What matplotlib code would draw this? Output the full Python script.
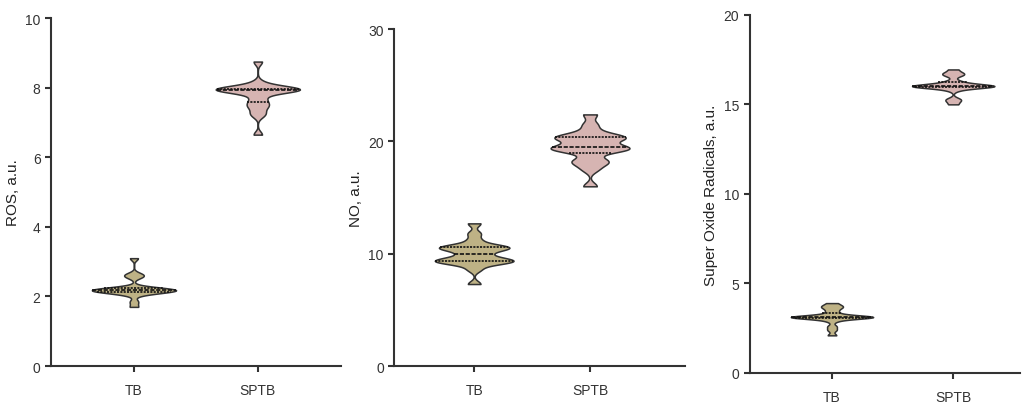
import matplotlib
matplotlib.use("Agg")
import matplotlib.pyplot as plt
import numpy as np
import pandas as pd
import seaborn as sns

plt.rcParams['font.family'] = ['Liberation Sans', 'DejaVu Sans']

groups = ["TB", "SPTB"]
colors = ["#c8b77b", "#dcaeac"]

# per-patient values
ros_tb = [1.7, 1.85, 2.05, 2.1, 2.12, 2.14, 2.15, 2.16, 2.17, 2.18,
          2.19, 2.2, 2.21, 2.22, 2.24, 2.27, 2.55, 2.6, 2.65, 3.1]
ros_sptb = [6.65, 7.2, 7.3, 7.45, 7.5, 7.6, 7.7, 7.85, 7.9, 7.92,
            7.93, 7.94, 7.95, 7.96, 7.97, 7.98, 8.0, 8.02, 8.15, 8.75]

no_tb = [7.3, 8.6, 9.1, 9.2, 9.3, 9.35, 9.4, 9.45, 9.6, 9.8,
         10.1, 10.3, 10.45, 10.55, 10.6, 10.65, 10.7, 11.2, 11.8, 12.7]
no_sptb = [16.0, 17.5, 18.0, 18.2, 18.4, 19.1, 19.2, 19.3, 19.4, 19.5,
           19.5, 19.8, 20.2, 20.3, 20.35, 20.4, 20.5, 20.9, 21.5, 22.4]

sor_tb = [2.1, 2.4, 2.6, 2.9, 3.05, 3.08, 3.1, 3.11, 3.12, 3.13,
          3.13, 3.14, 3.15, 3.16, 3.3, 3.45, 3.6, 3.7, 3.75, 3.9]
sor_sptb = [15.0, 15.2, 15.3, 15.8, 15.95, 15.98, 16.0, 16.0, 16.01, 16.02,
            16.03, 16.04, 16.05, 16.1, 16.2, 16.3, 16.6, 16.7, 16.75, 16.95]

panels = [
    (ros_tb, ros_sptb, "ROS, a.u.", 10, 2, [0.0498, 0.096, 0.283, 0.857], (-0.67, 1.67)),
    (no_tb, no_sptb, "NO, a.u.", 30, 10, [0.385, 0.096, 0.284, 0.830], (-0.69, 1.82)),
    (sor_tb, sor_sptb, "Super Oxide Radicals, a.u.", 20, 5, [0.732, 0.079, 0.264, 0.882], (-0.68, 1.55)),
]

fig = plt.figure(figsize=(10.24, 4.06), dpi=100)

for tb, sptb, ylabel, ymax, ystep, pos, xlim in panels:
    ax = fig.add_axes(pos)
    df = pd.DataFrame({
        "group": ["TB"] * len(tb) + ["SPTB"] * len(sptb),
        "value": tb + sptb,
    })
    sns.violinplot(data=df, x="group", y="value", hue="group", order=groups,
                   hue_order=groups, palette=colors, inner="quart",
                   density_norm="width", cut=0, bw_adjust=0.4, width=0.68,
                   linewidth=1.1, linecolor="#333333", legend=False, ax=ax,
                   inner_kws=dict(linewidth=1.2, color="#111111"))
    ax.set_ylim(0, ymax)
    ax.set_yticks(np.arange(0, ymax + 0.1, ystep))
    ax.set_xlim(*xlim)
    ax.set_xlabel("")
    ax.set_ylabel(ylabel, fontsize=11, color="#222222")
    for s in ["top", "right"]:
        ax.spines[s].set_visible(False)
    for s in ["left", "bottom"]:
        ax.spines[s].set_linewidth(1.5)
        ax.spines[s].set_color("#333333")
    ax.tick_params(axis="both", length=4, width=1.5, color="#333333",
                   labelsize=10, labelcolor="#333333")
    ax.tick_params(axis="x", pad=8)

fig.savefig("out.png", dpi=100)
